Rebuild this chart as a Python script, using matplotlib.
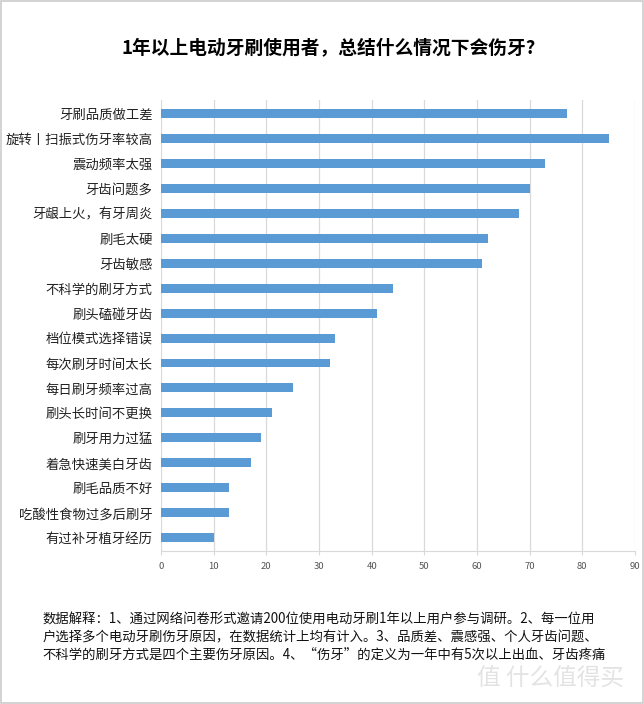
import numpy as np
import matplotlib.pyplot as plt
from matplotlib.patches import Rectangle

plt.rcParams['font.family'] = ['Noto Sans CJK SC', 'DejaVu Sans']

reasons = ['牙刷品质做工差', '旋转丨扫振式伤牙率较高', '震动频率太强', '牙齿问题多',
           '牙龈上火，有牙周炎', '刷毛太硬', '牙齿敏感', '不科学的刷牙方式',
           '刷头磕碰牙齿', '档位模式选择错误', '每次刷牙时间太长', '每日刷牙频率过高',
           '刷头长时间不更换', '刷牙用力过猛', '着急快速美白牙齿', '刷毛品质不好',
           '吃酸性食物过多后刷牙', '有过补牙植牙经历']
counts = [77, 85, 73, 70, 68, 62, 61, 44, 41, 33, 32, 25, 21, 19, 17, 13, 13, 10]
xticks = [0, 10, 20, 30, 40, 50, 60, 70, 80, 90]

title = '1年以上电动牙刷使用者，总结什么情况下会伤牙?'
note = ('数据解释：1、通过网络问卷形式邀请200位使用电动牙刷1年以上用户参与调研。2、每一位用\n'
        '户选择多个电动牙刷伤牙原因，在数据统计上均有计入。3、品质差、震感强、个人牙齿问题、\n'
        '不科学的刷牙方式是四个主要伤牙原因。4、“伤牙”的定义为一年中有5次以上出血、牙齿疼痛')

fig = plt.figure(figsize=(6.44, 7.04), dpi=100)
ax = fig.add_axes([0.25, 0.217, 0.736, 0.641])

y = np.arange(len(reasons))
ax.barh(y, counts, height=0.36, color='#5b9bd5', zorder=3)
ax.set_ylim(len(reasons) - 0.45, -0.55)
ax.set_xlim(0, 90)
ax.set_xticks(xticks)
ax.set_yticks(y)
ax.set_yticklabels(reasons, fontsize=9.6, color='#222222')
ax.tick_params(axis='y', length=0, pad=6)
ax.tick_params(axis='x', length=3, color='#d9d9d9', labelsize=6.8, labelcolor='#555555', pad=5)
ax.grid(axis='x', color='#d9d9d9', linewidth=0.9, zorder=0)
for s in ['top', 'right', 'left']:
    ax.spines[s].set_visible(False)
ax.spines['bottom'].set_color('#d9d9d9')

fig.text(0.51, 0.932, title, ha='center', va='center', fontsize=13.5, fontweight='bold')
fig.text(0.066, 0.095, note, ha='left', va='center', fontsize=9.6, linespacing=1.3, color='#111111')

fig.text(0.855, 0.035, '值 什么值得买', ha='center', va='center', fontsize=17, color='#e3e3e3')

fig.patches.append(Rectangle((0.002, 0.002), 0.996, 0.996, transform=fig.transFigure,
                             fill=False, edgecolor='#cccccc', linewidth=1.2))

plt.savefig('out.png', dpi=100)
